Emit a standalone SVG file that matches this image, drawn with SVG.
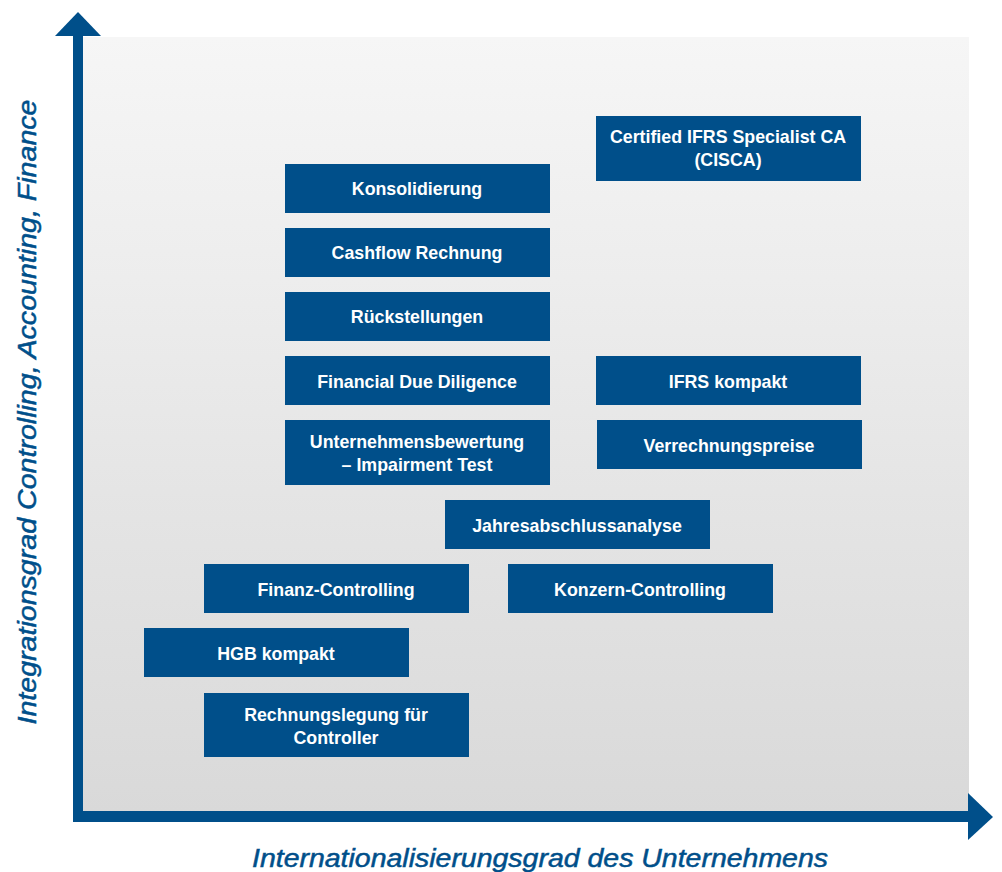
<svg xmlns="http://www.w3.org/2000/svg" width="1002" height="872" viewBox="0 0 1002 872">
<defs>
<linearGradient id="bg" x1="0" y1="0" x2="0" y2="1">
<stop offset="0" stop-color="#f6f6f6"/>
<stop offset="1" stop-color="#d9d9d9"/>
</linearGradient>
<style>
.box{fill:#004f8a}
.t{font-family:"Liberation Sans",Arial,sans-serif;font-weight:bold;font-size:17.8px;fill:#ffffff;text-anchor:middle}
.ax{font-family:"Liberation Sans",Arial,sans-serif;font-style:italic;font-size:26px;fill:#004f8a;stroke:#004f8a;stroke-width:0.5;text-anchor:middle}
</style>
</defs>
<rect width="1002" height="872" fill="#ffffff"/>
<rect x="83" y="37" width="886" height="775" fill="url(#bg)"/>
<g id="axes">
<rect x="73" y="34" width="10" height="788" fill="#004f8a"/>
<polygon points="55,36 78,12 101,36" fill="#004f8a"/>
<rect x="73" y="811" width="897" height="11" fill="#004f8a"/>
<polygon points="968,793 993,817 968,840" fill="#004f8a"/>
</g>
<text class="ax" x="540" y="867" textLength="576" lengthAdjust="spacingAndGlyphs">Internationalisierungsgrad des Unternehmens</text>
<text class="ax" transform="translate(36,412) rotate(-90)" x="0" y="0" textLength="625" lengthAdjust="spacingAndGlyphs">Integrationsgrad Controlling, Accounting, Finance</text>
<g id="n1"><rect class="box" x="596" y="116" width="265" height="65"/><text class="t" x="728" y="143">Certified IFRS Specialist CA</text><text class="t" x="728" y="166">(CISCA)</text></g>
<g id="n2"><rect class="box" x="285" y="164" width="265" height="49"/><text class="t" x="417" y="195">Konsolidierung</text></g>
<g id="n3"><rect class="box" x="285" y="228" width="265" height="49"/><text class="t" x="417" y="259">Cashflow Rechnung</text></g>
<g id="n4"><rect class="box" x="285" y="292" width="265" height="49"/><text class="t" x="417" y="323">Rückstellungen</text></g>
<g id="n5"><rect class="box" x="285" y="356" width="265" height="49"/><text class="t" x="417" y="388">Financial Due Diligence</text></g>
<g id="n6"><rect class="box" x="596" y="356" width="265" height="49"/><text class="t" x="728" y="388">IFRS kompakt</text></g>
<g id="n7"><rect class="box" x="285" y="420" width="265" height="65"/><text class="t" x="417" y="448">Unternehmensbewertung</text><text class="t" x="417" y="471">– Impairment Test</text></g>
<g id="n8"><rect class="box" x="597" y="420" width="265" height="49"/><text class="t" x="729" y="452">Verrechnungspreise</text></g>
<g id="n9"><rect class="box" x="445" y="500" width="265" height="49"/><text class="t" x="577" y="532">Jahresabschlussanalyse</text></g>
<g id="n10"><rect class="box" x="204" y="564" width="265" height="49"/><text class="t" x="336" y="596">Finanz-Controlling</text></g>
<g id="n11"><rect class="box" x="508" y="564" width="265" height="49"/><text class="t" x="640" y="596">Konzern-Controlling</text></g>
<g id="n12"><rect class="box" x="144" y="628" width="265" height="49"/><text class="t" x="276" y="660">HGB kompakt</text></g>
<g id="n13"><rect class="box" x="204" y="693" width="265" height="64"/><text class="t" x="336" y="721">Rechnungslegung für</text><text class="t" x="336" y="744">Controller</text></g>
</svg>
